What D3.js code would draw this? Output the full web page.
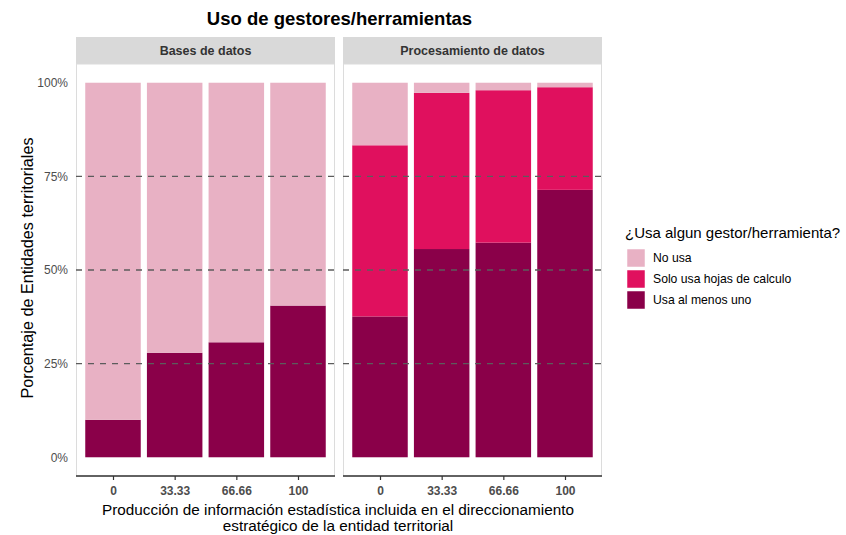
<!DOCTYPE html>
<html><head><meta charset="utf-8">
<script src="https://cdn.jsdelivr.net/npm/d3@7"></script>
<style>body{margin:0;background:#fff;} text{font-family:"Liberation Sans",Arial,sans-serif;}</style>
</head><body>
<svg id="chart" width="846" height="535"></svg>
<script>
const facets = ["Bases de datos", "Procesamiento de datos"];
const categories = ["0", "33.33", "66.66", "100"];
const seriesNames = ["Usa al menos uno", "Solo usa hojas de calculo", "No usa"];
const legendOrder = ["No usa", "Solo usa hojas de calculo", "Usa al menos uno"];
const colors = ["#8a0049", "#e0105e", "#e8b1c4"];
// values (%) per facet, order: Usa al menos uno, Solo usa hojas de calculo, No usa
const basesUsa = [10.0, 27.9, 30.7, 40.5];
const basesSolo = [0, 0, 0, 0];
const basesNo = [90.0, 72.1, 69.3, 59.5];
const procUsa = [37.6, 55.6, 57.3, 71.4];
const procSolo = [45.7, 41.7, 40.7, 27.4];
const procNo = [16.7, 2.7, 2.0, 1.2];
const yTicks = [0, 0.25, 0.5, 0.75, 1];
const refLines = [0.25, 0.5, 0.75];

const facetData = [
  [basesUsa, basesSolo, basesNo],
  [procUsa, procSolo, procNo]
];

const svg = d3.select("#chart");
const panelTop = 64, panelBottom = 476, stripTop = 37;
const panelX = [76, 343], panelW = 259;

const y = d3.scaleLinear().domain([-0.05, 1.05]).range([panelBottom, panelTop]);

// title
svg.append("text").attr("x", 339.5).attr("y", 25).attr("text-anchor", "middle")
  .attr("font-size", 18.5).attr("font-weight", "bold").attr("fill", "#000")
  .text("Uso de gestores/herramientas");

facets.forEach((f, fi) => {
  const x0 = panelX[fi];
  const xc = d3.scalePoint().domain(categories).range([x0 + panelW * 0.6 / 4.2, x0 + panelW * 3.6 / 4.2]);
  const step = panelW / 4.2, bw = step * 0.9;
  const g = svg.append("g");
  // strip
  g.append("rect").attr("x", x0).attr("y", stripTop).attr("width", panelW).attr("height", panelTop - stripTop)
    .attr("fill", "#d9d9d9");
  g.append("text").attr("x", x0 + panelW / 2).attr("y", (stripTop + panelTop) / 2 + 4.5)
    .attr("text-anchor", "middle").attr("font-size", 12.5).attr("font-weight", "bold").attr("fill", "#333")
    .text(f);
  // panel border
  g.append("rect").attr("x", x0 + 0.5).attr("y", panelTop).attr("width", panelW - 1).attr("height", panelBottom - panelTop)
    .attr("fill", "#fff").attr("stroke", "#dcdcdc").attr("stroke-width", 1);
  // stacked bars
  const data = categories.map((c, i) => {
    const o = { cat: c };
    seriesNames.forEach((s, si) => o[s] = facetData[fi][si][i] / 100);
    return o;
  });
  const stack = d3.stack().keys(seriesNames)(data);
  stack.forEach((layer, li) => {
    g.selectAll(null).data(layer).enter().append("rect")
      .attr("x", d => xc(d.data.cat) - bw / 2)
      .attr("width", bw)
      .attr("y", d => y(d[1]))
      .attr("height", d => Math.max(0, y(d[0]) - y(d[1])))
      .attr("fill", colors[li]);
  });
  // reference dashed lines
  refLines.forEach(v => {
    g.append("line").attr("x1", x0).attr("x2", x0 + panelW)
      .attr("y1", y(v)).attr("y2", y(v))
      .attr("stroke", "#5c5c5c").attr("stroke-width", 1.4).attr("stroke-dasharray", "6,6");
  });
  // x axis
  const ax = g.append("g").attr("transform", `translate(0,${panelBottom})`)
    .call(d3.axisBottom(xc).tickSize(4).tickPadding(6).tickSizeOuter(0));
  ax.select(".domain").remove();
  ax.append("line").attr("x1", x0).attr("x2", x0 + panelW).attr("y1", 0).attr("y2", 0)
    .attr("stroke", "#333").attr("stroke-width", 1.3);
  ax.selectAll(".tick line").attr("stroke", "#333").attr("stroke-width", 1.2);
  ax.selectAll(".tick text").attr("font-size", 12).attr("font-weight", "bold").attr("fill", "#4d4d4d")
    .attr("font-family", "Liberation Sans, Arial, sans-serif");
  if (fi === 0) {
    const ay = g.append("g").attr("transform", `translate(${x0},0)`)
      .call(d3.axisLeft(y).tickValues(yTicks).tickFormat(d3.format(".0%")).tickSize(0).tickPadding(8));
    ay.select(".domain").remove();
    ay.selectAll(".tick text").attr("font-size", 12).attr("fill", "#4d4d4d")
      .attr("font-family", "Liberation Sans, Arial, sans-serif");
  }
});

// y label
svg.append("text").attr("transform", `translate(33,268) rotate(-90)`)
  .attr("text-anchor", "middle").attr("font-size", 16.2).attr("fill", "#000")
  .text("Porcentaje de Entidades territoriales");

// x label
const xl = svg.append("text").attr("text-anchor", "middle").attr("font-size", 15.3).attr("fill", "#000");
xl.append("tspan").attr("x", 338).attr("y", 515).text("Producción de información estadística incluida en el direccionamiento");
xl.append("tspan").attr("x", 338).attr("y", 531).text("estratégico de la entidad territorial");

// legend
const lg = svg.append("g").attr("transform", "translate(625,0)");
lg.append("text").attr("x", 0).attr("y", 238).attr("font-size", 15).attr("fill", "#000")
  .text("¿Usa algun gestor/herramienta?");
legendOrder.forEach((name, i) => {
  const ci = seriesNames.indexOf(name);
  lg.append("rect").attr("x", 2).attr("y", 249 + i * 21).attr("width", 18).attr("height", 18)
    .attr("fill", colors[ci]).attr("stroke", "#fff").attr("stroke-width", 0.5);
  lg.append("text").attr("x", 28).attr("y", 262 + i * 21).attr("font-size", 12.2).attr("fill", "#000")
    .text(name);
});
</script>
</body></html>
